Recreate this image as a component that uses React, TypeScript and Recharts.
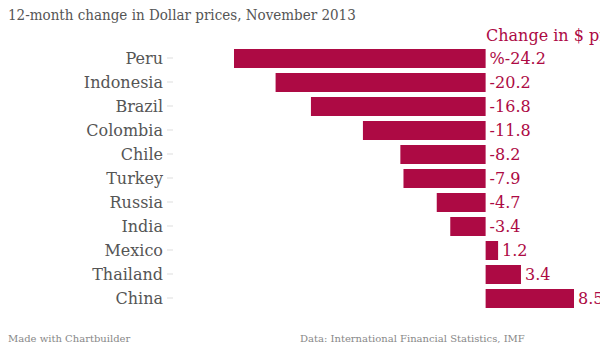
import { Bar, BarChart, LabelList, XAxis, YAxis } from "recharts";

const countries = ["Peru", "Indonesia", "Brazil", "Colombia", "Chile", "Turkey", "Russia", "India", "Mexico", "Thailand", "China"];
const changes = [-24.2, -20.2, -16.8, -11.8, -8.2, -7.9, -4.7, -3.4, 1.2, 3.4, 8.5];
const valueLabels = ["%-24.2", "-20.2", "-16.8", "-11.8", "-8.2", "-7.9", "-4.7", "-3.4", "1.2", "3.4", "8.5"];

const data = countries.map((c, i) => ({ country: c, change: changes[i], label: valueLabels[i] }));

const barColor = "#ad0a44";
const textColor = "#555";
const font = "'DejaVu Serif', serif";
const condensed = "'DejaVu Serif Condensed', 'DejaVu Serif', serif";

const renderValue = (props: any) => {
  const { x, y, width, height, index } = props;
  const right = Math.max(x, x + width);
  return (
    <text
      x={right + 4}
      y={y + height / 2}
      dy="0.35em"
      fill={barColor}
      fontSize={16}
      fontFamily={font}
    >
      {valueLabels[index]}
    </text>
  );
};

export default function App() {
  return (
    <div style={{ position: "absolute", left: 0, top: 0, width: 600, height: 350, background: "#fff", overflow: "hidden", fontFamily: font }}>
      <div style={{ position: "absolute", left: 8, top: 6, fontSize: 15, fontFamily: condensed, fontStretch: "condensed", color: textColor, whiteSpace: "nowrap" }}>
        12-month change in Dollar prices, November 2013
      </div>
      <div style={{ position: "absolute", left: 486, top: 26, fontSize: 16, color: barColor, whiteSpace: "nowrap" }}>
        Change in $ prices
      </div>
      <BarChart
        width={600}
        height={350}
        data={data}
        layout="vertical"
        margin={{ top: 46, right: 26, left: 0, bottom: 40 }}
      >
        <XAxis type="number" dataKey="change" domain={[-24.2, 8.5]} hide padding={{ left: 61, right: 0 }} />
        <YAxis
          type="category"
          dataKey="country"
          width={173}
          axisLine={false}
          tickSize={6}
          tickMargin={4}
          tickLine={{ stroke: "#ddd" }}
          tick={{ fill: textColor, fontSize: 16, fontFamily: font }}
        />
        <Bar dataKey="change" fill={barColor} barSize={19} isAnimationActive={false}>
          <LabelList dataKey="label" content={renderValue} />
        </Bar>
      </BarChart>
      <div style={{ position: "absolute", left: 8, top: 333, fontSize: 10, color: "#888", whiteSpace: "nowrap" }}>
        Made with Chartbuilder
      </div>
      <div style={{ position: "absolute", left: 300, top: 333, fontSize: 10, color: "#888", whiteSpace: "nowrap" }}>
        Data: International Financial Statistics, IMF
      </div>
    </div>
  );
}
